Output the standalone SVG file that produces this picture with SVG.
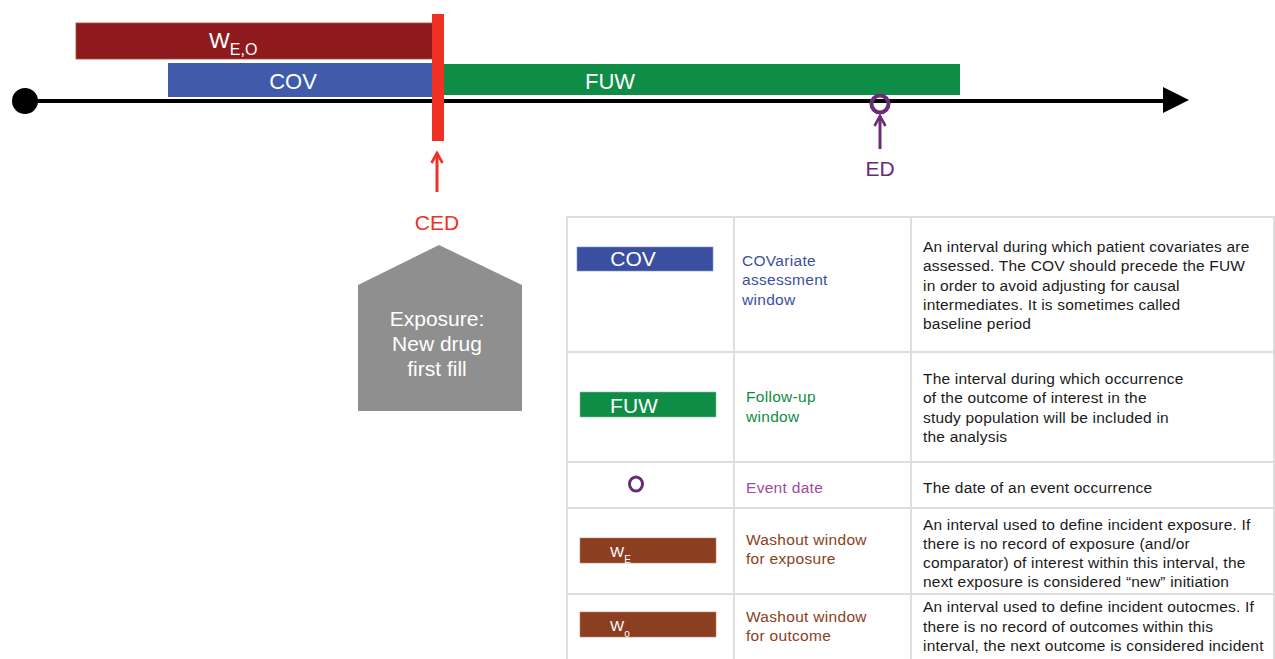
<svg xmlns="http://www.w3.org/2000/svg" width="1275" height="659" viewBox="0 0 1275 659">
<style>
text{font-family:"Liberation Sans",Arial,sans-serif}
.wt{fill:#fff}
.desc{font-size:15.5px;fill:#1a1a1a;letter-spacing:0.2px}
.lab{font-size:15.5px;letter-spacing:0.3px}
.grid{stroke:#dedede;stroke-width:2;fill:none}
</style>
<defs>
<marker id="ah" viewBox="0 0 14 14" refX="12" refY="7" markerWidth="14" markerHeight="14" markerUnits="userSpaceOnUse" orient="auto"><path d="M2,1.5 L12,7 L2,12.5" fill="none" stroke="context-stroke" stroke-width="2.6"/></marker>
</defs>

<g id="timeline">
<line x1="25" y1="101" x2="1166" y2="101" stroke="#000" stroke-width="4"/>
<polygon points="1163,87 1189,100 1163,113" fill="#000"/>
<circle cx="25" cy="101" r="13" fill="#000"/>
</g>

<g id="weo">
<rect x="76" y="23" width="359" height="36" fill="#8f1a1e" stroke="#a0522d" stroke-width="0.8"/>
<text x="209" y="48" class="wt" font-size="22">W<tspan font-size="16" dy="7">E,O</tspan></text>
</g>

<g id="cov">
<rect x="168" y="63" width="276" height="34" fill="#3f5ba9"/>
<text x="293" y="89" class="wt" font-size="22" text-anchor="middle">COV</text>
</g>

<g id="fuw">
<rect x="444" y="64" width="516" height="31" fill="#0f8c45"/>
<text x="610" y="89" class="wt" font-size="22" text-anchor="middle">FUW</text>
</g>

<g id="ced-bar">
<rect x="432" y="14" width="12" height="127" fill="#ee3124"/>
</g>

<g id="ed">
<circle cx="880" cy="104" r="8.5" fill="none" stroke="#6b2c76" stroke-width="4"/>
<text x="880" y="176" font-size="21" fill="#6b2c76" text-anchor="middle">ED</text>
</g>

<g id="ced">
<text x="437" y="230" font-size="21" fill="#ee3124" text-anchor="middle">CED</text>
</g>

<g id="exposure">
<polygon points="358,285 439,245 522,285 522,411 358,411" fill="#8f8f8f"/>
<text x="437" y="326" class="wt" font-size="21" text-anchor="middle">Exposure:</text>
<text x="437" y="351" class="wt" font-size="21" text-anchor="middle">New drug</text>
<text x="437" y="376" class="wt" font-size="21" text-anchor="middle">first fill</text>
</g>

<g id="connectors">
<line x1="437" y1="192" x2="437" y2="153" stroke="#ee3124" stroke-width="3" marker-end="url(#ah)"/>
<line x1="880" y1="149" x2="880" y2="116" stroke="#6b2c76" stroke-width="3" marker-end="url(#ah)"/>
</g>

<g id="legend-table">
<rect x="567" y="217" width="707" height="450" fill="#fff" class="grid"/>
<line x1="734" y1="217" x2="734" y2="659" class="grid"/>
<line x1="911" y1="217" x2="911" y2="659" class="grid"/>
<line x1="567" y1="352" x2="1274" y2="352" class="grid"/>
<line x1="567" y1="462" x2="1274" y2="462" class="grid"/>
<line x1="567" y1="508" x2="1274" y2="508" class="grid"/>
<line x1="567" y1="594" x2="1274" y2="594" class="grid"/>
</g>

<g id="row-cov">
<rect x="577" y="247" width="136" height="24" fill="#3b4fa0" stroke="#8090c8" stroke-width="0.6"/>
<text x="633" y="266" class="wt" font-size="21" text-anchor="middle">COV</text>
<text class="lab" fill="#3b4fa0"><tspan x="742" y="266">COVariate</tspan><tspan x="742" y="285">assessment</tspan><tspan x="742" y="305">window</tspan></text>
<text class="desc"><tspan x="923" y="252">An interval during which patient covariates are</tspan><tspan x="923" y="271">assessed. The COV should precede the FUW</tspan><tspan x="923" y="291">in order to avoid adjusting for causal</tspan><tspan x="923" y="310">intermediates. It is sometimes called</tspan><tspan x="923" y="329">baseline period</tspan></text>
</g>

<g id="row-fuw">
<rect x="580" y="392" width="136" height="25" fill="#0f8c45" stroke="#7cc59a" stroke-width="0.6"/>
<text x="634" y="413" class="wt" font-size="21" text-anchor="middle">FUW</text>
<text class="lab" fill="#0f8c45"><tspan x="746" y="402">Follow-up</tspan><tspan x="746" y="422">window</tspan></text>
<text class="desc"><tspan x="923" y="384">The interval during which occurrence</tspan><tspan x="923" y="403">of the outcome of interest in the</tspan><tspan x="923" y="423">study population will be included in</tspan><tspan x="923" y="442">the analysis</tspan></text>
</g>

<g id="row-ed">
<ellipse cx="636" cy="484" rx="6.5" ry="7" fill="none" stroke="#6b2c76" stroke-width="3"/>
<text x="746" y="493" class="lab" fill="#a04aa0">Event date</text>
<text x="923" y="493" class="desc">The date of an event occurrence</text>
</g>

<g id="row-we">
<rect x="580" y="538" width="136" height="25" fill="#8b3e20" stroke="#c08060" stroke-width="0.6"/>
<text x="610" y="557" class="wt" font-size="15">W<tspan font-size="10" dy="6">E</tspan></text>
<text class="lab" fill="#8b3e20"><tspan x="746" y="545">Washout window</tspan><tspan x="746" y="564">for exposure</tspan></text>
<text class="desc"><tspan x="923" y="530">An interval used to define incident exposure. If</tspan><tspan x="923" y="549">there is no record of exposure (and/or</tspan><tspan x="923" y="568">comparator) of interest within this interval, the</tspan><tspan x="923" y="587">next exposure is considered “new” initiation</tspan></text>
</g>

<g id="row-wo">
<rect x="580" y="612" width="136" height="25" fill="#8b3e20" stroke="#c08060" stroke-width="0.6"/>
<text x="610" y="631" class="wt" font-size="15">W<tspan font-size="10" dy="6">o</tspan></text>
<text class="lab" fill="#8b3e20"><tspan x="746" y="622">Washout window</tspan><tspan x="746" y="641">for outcome</tspan></text>
<text class="desc"><tspan x="923" y="612">An interval used to define incident outocmes. If</tspan><tspan x="923" y="632">there is no record of outcomes within this</tspan><tspan x="923" y="651">interval, the next outcome is considered incident</tspan></text>
</g>
</svg>
